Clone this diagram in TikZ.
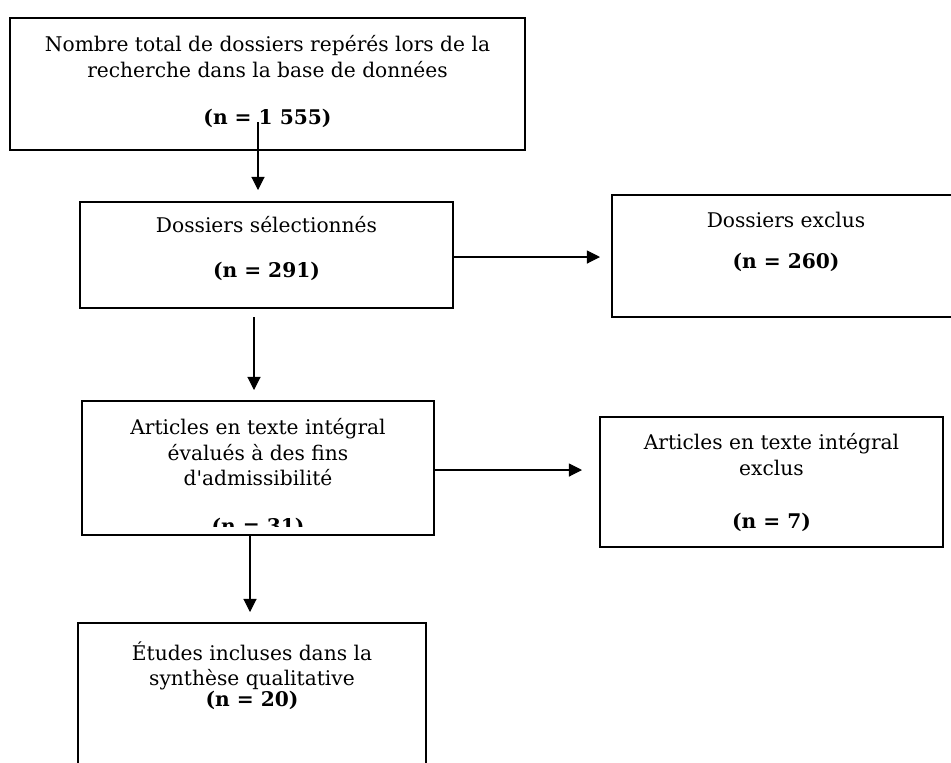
\documentclass[tikz,border=0pt]{standalone}
\usepackage{fontspec}
\setmainfont{DejaVu Serif}
\usetikzlibrary{arrows.meta,positioning}
\tikzset{box/.style={rectangle,draw=black,line width=0.8pt,fill=white,inner sep=0pt}}
\tikzset{boxtext/.style={align=center,inner sep=0pt,anchor=north,font=\fontsize{11.5}{14.5}\selectfont}}
\tikzset{toArrow/.style={-{Triangle[width=7.5pt,length=7.5pt]},line width=0.6pt}}

\begin{document}
\begin{tikzpicture}[x=0.02cm,y=-0.02cm]
\useasboundingbox (0,0) rectangle (951,762);
% boxes
\node (total) [box, minimum width=10.3cm, minimum height=2.64cm] at (267.5,84) {};
\node (sel) [box, minimum width=7.46cm, minimum height=2.12cm] at (266.5,255) {};
\node (excl) [box, minimum width=6.96cm, minimum height=2.44cm] at (786,256) {};
\node (full) [box, minimum width=7.04cm, minimum height=2.68cm] at (258,468) {};
\node (fullex) [box, minimum width=6.86cm, minimum height=2.6cm] at (771.5,482) {};
\node (incl) [box, minimum width=6.96cm, minimum height=3.32cm] at (252,706) {};
% texts
\node (totaltxt) [boxtext, below=0.36cm of total.north] {Nombre total de dossiers repérés lors de la\\recherche dans la base de données\\[12.5pt]\textbf{(n = 1 555)}};
\node (seltxt) [boxtext, below=0.30cm of sel.north] {Dossiers sélectionnés\\[11pt]\textbf{(n = 291)}};
\node (excltxt) [boxtext, below=0.34cm of excl.north] {Dossiers exclus\\[9.3pt]\textbf{(n = 260)}};
\begin{scope}
\clip (full.north west) rectangle ([yshift=0.18cm]full.south east);
\node (fulltxt) [boxtext, below=0.36cm of full.north] {Articles en texte intégral\\évalués à des fins\\d\textquotesingle admissibilité\\[12.5pt]\textbf{(n = 31)}};
\end{scope}
\node (fullextxt) [boxtext, below=0.34cm of fullex.north] {Articles en texte intégral\\exclus\\[15.6pt]\textbf{(n = 7)}};
\node (incltxt) [boxtext, below=0.38cm of incl.north] {Études incluses dans la\\synthèse qualitative\\[-2.6pt]\textbf{(n = 20)}};
% arrows
\coordinate (a1s) at (258,122);
\coordinate (a1e) at (258,190);
\coordinate (a2s) at (254,317);
\coordinate (a2e) at (254,390);
\coordinate (a3e) at (600,257);
\coordinate (a4e) at (582,470);
\coordinate (a5e) at (250,612);
\draw [toArrow] (a1s) -- (a1e);
\draw [toArrow] (a2s) -- (a2e);
\draw [toArrow] (sel.east |- a3e) -- (a3e);
\draw [toArrow] (full.east |- a4e) -- (a4e);
\draw [toArrow] (full.south -| a5e) -- (a5e);
\end{tikzpicture}
\end{document}
